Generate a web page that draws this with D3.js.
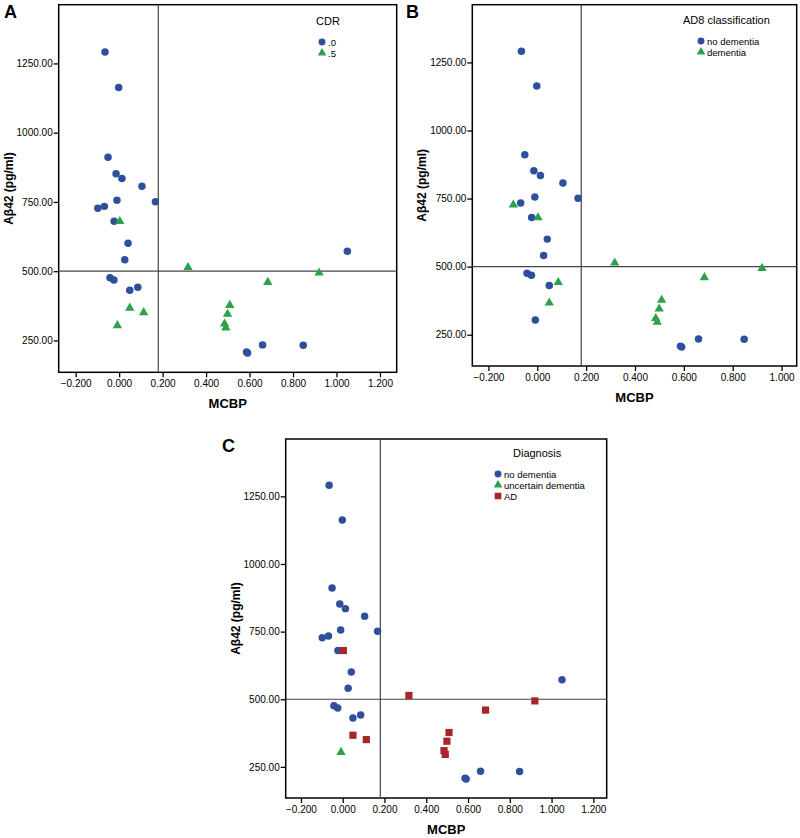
<!DOCTYPE html>
<html><head><meta charset="utf-8">
<script src="https://cdn.jsdelivr.net/npm/d3@7"></script>
<style>body{margin:0;background:#fff}svg{display:block;font-family:"Liberation Sans",Arial,sans-serif}</style>
</head><body><svg id="c" width="800" height="838"></svg>
<script>
// Shared subject data (MCBP vs Aβ42)
const mcbp  = [-0.065,-0.002,-0.051,-0.014,0.013,0.105,-0.010,0.167,-0.098,-0.068,-0.023,0.003,0.041,0.026,1.050,-0.042,-0.024,0.049,0.086,0.317,0.920,0.684,0.509,0.499,0.049,0.113,-0.008,0.485,0.491,0.586,0.591,0.660,0.847];
const abeta = [1291,1163,911,852,835,807,756,751,727,734,680,680,601,541,572,476,468,431,442,514,494,460,377,345,367,351,304,310,296,208,205,234,233];
// Classifications per panel
const cdr  = [".0",".0",".0",".0",".0",".0",".0",".0",".0",".0",".0",".5",".0",".0",".0",".0",".0",".0",".0",".5",".5",".5",".5",".5",".5",".5",".5",".5",".5",".0",".0",".0",".0"];
const ad8  = ["no dementia","no dementia","no dementia","no dementia","no dementia","no dementia","no dementia","no dementia","dementia","no dementia","no dementia","dementia","no dementia","no dementia",null,"no dementia","no dementia","no dementia","dementia","dementia","dementia","dementia","dementia","dementia","dementia",null,"no dementia","dementia","dementia","no dementia","no dementia","no dementia","no dementia"];
const diag = ["no dementia","no dementia","no dementia","no dementia","no dementia","no dementia","no dementia","no dementia","no dementia","no dementia","no dementia","AD","no dementia","no dementia","no dementia","no dementia","no dementia","no dementia","no dementia","AD","AD","AD","AD","AD","AD","AD","uncertain dementia","AD","AD","no dementia","no dementia","no dementia","no dementia"];
const cdrLevels  = [".0",".5"];
const ad8Levels  = ["no dementia","dementia"];
const diagLevels = ["no dementia","uncertain dementia","AD"];
const xTicksAC = [-0.2,0,0.2,0.4,0.6,0.8,1.0,1.2];
const xTicksB  = [-0.2,0,0.2,0.4,0.6,0.8,1.0];
const yTicks   = [250,500,750,1000,1250];
const refX = 0.18, refY = 500;

const svg = d3.select("#c");
const colors = ["#2f4f9e","#2ca24a","#a8262b"];
const symbols = [d3.symbolCircle, d3.symbolTriangle, d3.symbolSquare];
const sizes = [44, 38, 52];

function panel(cfg){
  const g = svg.append("g");
  const x = d3.scaleLinear().domain(cfg.xd).range([cfg.l, cfg.r]);
  const y = d3.scaleLinear().domain([135,1462]).range([cfg.b, cfg.t]);
  // axes
  const xa = g.append("g").attr("transform",`translate(0,${cfg.b})`)
    .call(d3.axisBottom(x).tickValues(cfg.xt).tickSize(5).tickPadding(3).tickFormat(d=>d3.format(".3f")(d).replace("-","\u2013")));
  const ya = g.append("g").attr("transform",`translate(${cfg.l},0)`)
    .call(d3.axisLeft(y).tickValues(yTicks).tickSize(5).tickPadding(1).tickFormat(d3.format(".2f")));
  [xa,ya].forEach(a=>{a.select(".domain").remove();a.selectAll("line").attr("stroke","#000").attr("stroke-width",1.3);a.selectAll("text").attr("font-size",10).attr("fill","#000").attr("font-family","Liberation Sans, Arial, sans-serif");});
  // frame
  g.append("rect").attr("x",cfg.l).attr("y",cfg.t).attr("width",cfg.r-cfg.l).attr("height",cfg.b-cfg.t)
    .attr("fill","none").attr("stroke","#000").attr("stroke-width",1.5);
  // reference lines
  g.append("line").attr("x1",x(refX)).attr("x2",x(refX)).attr("y1",cfg.t).attr("y2",cfg.b).attr("stroke","#444").attr("stroke-width",1.2);
  g.append("line").attr("x1",cfg.l).attr("x2",cfg.r).attr("y1",y(refY)).attr("y2",y(refY)).attr("stroke","#444").attr("stroke-width",1.2);
  // points
  const data = mcbp.map((m,i)=>({m, a:abeta[i], c:cfg.cls[i]})).filter(d=>d.c!==null);
  g.selectAll("path.pt").data(data).join("path").attr("class","pt")
    .attr("transform",d=>`translate(${x(d.m)},${y(d.a)})`)
    .attr("d",d=>{const k=cfg.levels.indexOf(d.c);return d3.symbol(symbols[k],sizes[k])();})
    .attr("fill",d=>colors[cfg.levels.indexOf(d.c)]);
  // labels
  g.append("text").attr("x",(cfg.l+cfg.r)/2).attr("y",cfg.b+36).attr("text-anchor","middle")
    .attr("font-size",13).attr("font-weight","bold").text("MCBP");
  g.append("text").attr("transform",`translate(${cfg.l-46},${(cfg.t+cfg.b)/2}) rotate(-90)`).attr("text-anchor","middle")
    .attr("font-size",12).attr("font-weight","bold").text("Aβ42 (pg/ml)");
  g.append("text").attr("x",cfg.lx).attr("y",cfg.ly).attr("font-size",18).attr("font-weight","bold").text(cfg.letter);
  // legend
  g.append("text").attr("x",cfg.legX+cfg.titleDx).attr("y",cfg.legY).attr("font-size",11).text(cfg.title);
  cfg.levels.forEach((lv,k)=>{
    const yy = cfg.legY+17+k*11;
    g.append("path").attr("transform",`translate(${cfg.legX},${yy})`).attr("d",d3.symbol(symbols[k],sizes[k]*0.85)()).attr("fill",colors[k]);
    g.append("text").attr("x",cfg.legX+6).attr("y",yy+3.5).attr("font-size",9.5).text(lv);
  });
}

panel({letter:"A",lx:4,ly:18,l:58.7,r:396.7,t:4.7,b:372.3,xd:[-0.278,1.277],xt:xTicksAC,cls:cdr,levels:cdrLevels,title:"CDR",legX:322,legY:25,titleDx:-6});
panel({letter:"B",lx:406,ly:18,l:472.3,r:796.7,t:4.7,b:366,xd:[-0.266,1.062],xt:xTicksB,cls:ad8,levels:ad8Levels,title:"AD8 classification",legX:701,legY:24,titleDx:-18});
panel({letter:"C",lx:222,ly:452,l:285.7,r:606.7,t:439,b:798,xd:[-0.273,1.264],xt:xTicksAC,cls:diag,levels:diagLevels,title:"Diagnosis",legX:498,legY:457,titleDx:15});
</script></body></html>
